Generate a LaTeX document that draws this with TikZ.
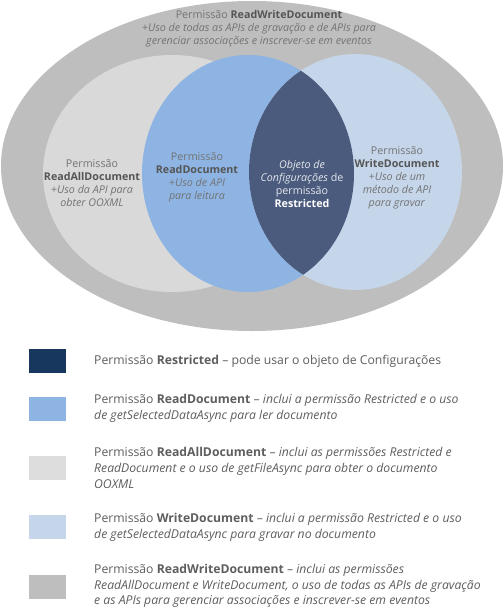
\documentclass[tikz,border=0pt]{standalone}
\usepackage{fontspec}
\setmainfont{Open Sans}
\definecolor{outergrey}{HTML}{BEBEBE}
\definecolor{lightgrey}{HTML}{D9D9D9}
\definecolor{readblue}{HTML}{8EB4E3}
\definecolor{writeblue}{HTML}{C6D6EA}
\definecolor{lensblue}{HTML}{4B5B7E}
\definecolor{legdark}{HTML}{17375E}
\definecolor{leglight}{HTML}{DDDDDD}
\definecolor{txtgrey}{HTML}{5E5E5E}
\definecolor{vgrey}{HTML}{737373}
\definecolor{vbold}{HTML}{555555}
\newcommand{\vb}[1]{\textcolor{vbold}{\textbf{#1}}}
\tikzset{
  vtext/.style={align=center, inner sep=0pt, text=vgrey, font=\fontsize{10.7}{13}\selectfont},
  legbox/.style={minimum width=37pt, minimum height=24pt, inner sep=0pt, draw=none},
  legtext/.style={anchor=west, align=left, inner sep=0pt, text=txtgrey, font=\fontsize{12.2}{16}\selectfont}
}
\begin{document}
\begin{tikzpicture}[x=1pt,y=-1pt]
\useasboundingbox (0,0) rectangle (503,610);
\fill[white] (0,0) rectangle (503,610);
% Venn shapes
\fill[outergrey] (252,166) ellipse [x radius=251, y radius=165];
\fill[lightgrey] (172,173.5) ellipse [x radius=129, y radius=118.5];
\fill[readblue] (248,173.5) ellipse [x radius=106, y radius=118.5];
\fill[writeblue] (355.5,172) ellipse [x radius=106.5, y radius=118];
\begin{scope}
  \clip (248,173.5) ellipse [x radius=106, y radius=118.5];
  \fill[lensblue] (355.5,172) ellipse [x radius=106.5, y radius=118];
\end{scope}
% Venn texts
\node[vtext] (rw) at (259,29) {Permissão \vb{ReadWriteDocument}\\\textit{+Uso de todas as APIs de gravação e de APIs para}\\\textit{gerenciar associações e inscrever-se em eventos}};
\node[vtext] (ra) at (92,183.5) {Permissão\\\vb{ReadAllDocument}\\\textit{+Uso da API para}\\\textit{obter OOXML}};
\node[vtext] (rd) at (197,177.5) {Permissão\\\vb{ReadDocument}\\\textit{+Uso de API}\\\textit{para leitura}};
\node[vtext, text=white!85!lensblue] (rs) at (302,183.5) {\textit{Objeto de}\\\textit{Configurações} de\\permissão\\\textcolor{white}{\textbf{Restricted}}};
\node[vtext] (wd) at (397,177.5) {Permissão\\\vb{WriteDocument}\\\textit{+Uso de um}\\\textit{método de API}\\\textit{para gravar}};
% Legend
\node[legbox, fill=legdark] (b1) at (47.5,361) {};
\node[legbox, fill=readblue] (b2) at (47.5,408.5) {};
\node[legbox, fill=leglight] (b3) at (47.5,468) {};
\node[legbox, fill=writeblue] (b4) at (47.5,527) {};
\node[legbox, fill=outergrey] (b5) at (47.5,586.5) {};
\node[legtext] (t1) at (94,361.7) {Permissão \textbf{Restricted} – pode usar o objeto de Configurações};
\node[legtext] (t2) at (94,408.7) {Permissão \textbf{ReadDocument} – \textit{inclui a permissão Restricted e o uso}\\\textit{de getSelectedDataAsync para ler documento}};
\node[legtext] (t3) at (94,467.7) {Permissão \textbf{ReadAllDocument} – \textit{inclui as permissões Restricted e}\\\textit{ReadDocument e o uso de getFileAsync para obter o documento}\\\textit{OOXML}};
\node[legtext] (t4) at (94,527) {Permissão \textbf{WriteDocument} – \textit{inclui a permissão Restricted e o uso}\\\textit{de getSelectedDataAsync para gravar no documento}};
\node[legtext, font=\fontsize{12.2}{15.5}\selectfont] (t5) at (94,586) {Permissão \textbf{ReadWriteDocument} – \textit{inclui as permissões}\\\textit{ReadAllDocument e WriteDocument, o uso de todas as APIs de gravação}\\\textit{e as APIs para gerenciar associações e inscrever-se em eventos}};
\end{tikzpicture}
\end{document}
